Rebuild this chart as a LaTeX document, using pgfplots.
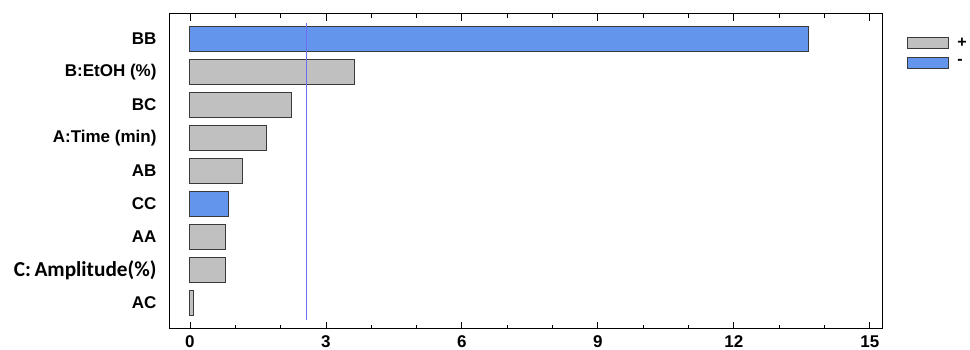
\documentclass[border=0pt]{standalone}
\usepackage{fontspec}
\setmainfont{Liberation Sans}
\newfontfamily\carlito{Carlito}
\usepackage{pgfplots}
\pgfplotsset{compat=1.18}
\definecolor{barblue}{HTML}{6495ED}
\definecolor{bargray}{HTML}{C0C0C0}
\definecolor{edge}{HTML}{3A3A3A}
\definecolor{refline}{HTML}{6E6EF5}
\begin{document}
\begin{tikzpicture}
\begin{axis}[name=ax, at={(0,0)}, anchor=south west,
  scale only axis, width=712pt, height=315pt,
  xmin=-0.44, xmax=15.27, ymin=-0.79, ymax=8.76,
  bar width=0.78, bar shift=0pt,
  axis line style={black, line width=1pt},
  xtick={0,3,...,15}, minor xtick={0,...,15},
  tick align=inside, major tick length=7pt, minor tick length=4pt,
  xtick style={black, line width=0.8pt},
  xtick pos=both, xticklabel pos=bottom,
  ytick={0,...,8},
  yticklabels={AC, {\carlito\bfseries\fontsize{21.3}{23}\selectfont C:\,Amplitude(\%)\hspace{-8pt}}, AA, CC, AB, A:Time (min), BC, B:EtOH (\%), BB},
  ytick style={draw=none},
  tick label style={font=\fontsize{17}{19}\selectfont\bfseries},
  /pgf/number format/assume math mode=true,
  x tick label style={yshift=-3pt},
  y tick label style={anchor=east, xshift=-10pt},
  legend style={at={(1.031,0.935)}, anchor=north west, draw=none, fill=none,
    font=\fontsize{16}{18}\selectfont\bfseries, row sep=7pt,
    nodes={inner sep=1pt}},
  legend cell align=left,
]
\addplot[xbar, fill=bargray, draw=edge, line width=1pt,
  legend image code/.code={\draw[fill=bargray, draw=edge, line width=1pt] (0pt,-5.5pt) rectangle (41pt,5.5pt);}]
  coordinates {(3.62,7) (2.25,6) (1.70,5) (1.17,4) (0.78,2) (0.78,1) (0.08,0)};
\addlegendentry{\hspace{7pt}+}
\addplot[xbar, fill=barblue, draw=edge, line width=1pt,
  legend image code/.code={\draw[fill=barblue, draw=edge, line width=1pt] (0pt,-5.5pt) rectangle (41pt,5.5pt);}]
  coordinates {(13.64,8) (0.86,3)};
\addlegendentry{\hspace{7pt}-}
\addplot[refline, line width=1.2pt, forget plot] coordinates {(2.571,-0.52) (2.571,8.49)};
\end{axis}
\pgfresetboundingbox
\path (ax.south west) ++(-170pt,-21pt) rectangle ++(970pt,350pt);
\end{tikzpicture}
\end{document}
